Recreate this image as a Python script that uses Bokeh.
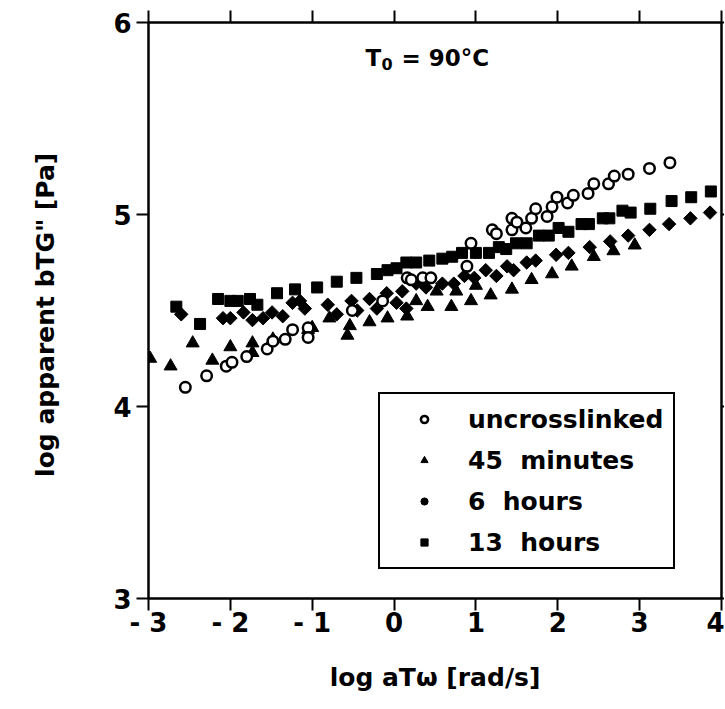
import numpy as np
from bokeh.plotting import figure
from bokeh.models import Range1d, LinearAxis, FixedTicker, Label, Legend, LegendItem
from bokeh.embed import file_html
from bokeh.resources import INLINE

# ---------------- data ----------------
uncross_x = [-2.55, -2.29, -2.05, -1.98, -1.80, -1.55, -1.48, -1.33, -1.24, -1.05, -1.05, -0.51,
             -0.14, 0.16, 0.21, 0.35, 0.45, 0.89, 0.94, 1.20, 1.25, 1.44, 1.44, 1.50, 1.61, 1.68,
             1.73, 1.87, 1.93, 1.99, 2.12, 2.19, 2.37, 2.44, 2.62, 2.69, 2.86, 3.12, 3.37]
uncross_y = [4.10, 4.16, 4.21, 4.23, 4.26, 4.30, 4.34, 4.35, 4.40, 4.41, 4.36, 4.50,
             4.55, 4.67, 4.66, 4.67, 4.67, 4.73, 4.85, 4.92, 4.90, 4.98, 4.92, 4.96, 4.93, 4.98,
             5.03, 4.99, 5.04, 5.09, 5.06, 5.10, 5.11, 5.16, 5.16, 5.20, 5.21, 5.24, 5.27]

min45_x = [-2.98, -2.73, -2.46, -2.22, -2.00, -1.73, -1.73, -1.48, -1.05, -1.00, -0.79, -0.57,
           -0.54, -0.30, -0.08, 0.16, 0.27, 0.41, 0.52, 0.70, 0.76, 0.94, 1.00, 1.18, 1.44,
           1.68, 1.93, 2.17, 2.44, 2.68, 2.94]
min45_y = [4.25, 4.21, 4.33, 4.24, 4.31, 4.33, 4.28, 4.35, 4.40, 4.41, 4.46, 4.37,
           4.42, 4.44, 4.46, 4.47, 4.55, 4.52, 4.60, 4.52, 4.60, 4.55, 4.63, 4.58, 4.61,
           4.66, 4.69, 4.73, 4.78, 4.81, 4.84]

hr6_x = [-2.60, -2.09, -2.00, -1.84, -1.73, -1.60, -1.49, -1.36, -1.24, -1.15, -1.09, -0.81,
         -0.70, -0.52, -0.45, -0.30, -0.21, -0.09, 0.03, 0.10, 0.15, 0.27, 0.39, 0.59, 0.73,
         0.86, 0.98, 1.12, 1.25, 1.38, 1.46, 1.62, 1.73, 1.98, 2.13, 2.39, 2.64, 2.86, 3.12,
         3.36, 3.62, 3.86]
hr6_y = [4.48, 4.46, 4.46, 4.49, 4.45, 4.46, 4.49, 4.47, 4.54, 4.55, 4.51, 4.53,
         4.48, 4.55, 4.50, 4.56, 4.51, 4.59, 4.54, 4.60, 4.51, 4.64, 4.62, 4.64, 4.64,
         4.68, 4.67, 4.71, 4.68, 4.73, 4.71, 4.75, 4.76, 4.79, 4.80, 4.83, 4.86, 4.89, 4.92,
         4.95, 4.98, 5.01]

hr13_x = [-2.66, -2.37, -2.15, -2.00, -1.91, -1.76, -1.67, -1.43, -1.21, -0.94, -0.70, -0.46,
          -0.21, -0.08, 0.03, 0.15, 0.27, 0.43, 0.59, 0.71, 0.83, 1.00, 1.16, 1.28, 1.37,
          1.49, 1.62, 1.77, 1.89, 2.01, 2.13, 2.29, 2.38, 2.55, 2.63, 2.79, 2.89, 3.13, 3.39,
          3.63, 3.87]
hr13_y = [4.52, 4.43, 4.56, 4.55, 4.55, 4.56, 4.53, 4.59, 4.61, 4.62, 4.65, 4.67,
          4.69, 4.71, 4.72, 4.75, 4.75, 4.76, 4.77, 4.78, 4.80, 4.80, 4.80, 4.83, 4.82,
          4.85, 4.85, 4.89, 4.89, 4.93, 4.91, 4.95, 4.95, 4.98, 4.98, 5.02, 5.01, 5.03, 5.07,
          5.09, 5.12]

series_names = ["uncrosslinked", "45  minutes", "6  hours", "13  hours"]

x_ticks = [-3, -2, -1, 0, 1, 2, 3, 4]
x_tick_labels = ["- 3", "- 2", "- 1", "0", "1", "2", "3", "4"]
y_ticks = [3, 4, 5, 6]
y_tick_labels = ["3", "4", "5", "6"]

x_title = "log aTω [rad/s]"
y_title = 'log apparent bTG"  [Pa]'

# ---------------- layout ----------------
FONT = "DejaVu Sans"
FW, FH = 573, 576
BL, BT = 148, 22
FRAME_L = BL
FRAME_T = BT


def X(px):
    return -3 + (px - FRAME_L) / (FW / 7.0)


def Y(py):
    return 6 - (py - FRAME_T) / (FH / 3.0)


p = figure(frame_width=FW, frame_height=FH, x_range=Range1d(-3, 4), y_range=Range1d(3, 6),
           output_backend="svg", toolbar_location=None,
           min_border_left=BL, min_border_top=BT, min_border_right=0, min_border_bottom=100)
p.grid.visible = False
p.outline_line_color = "black"
p.outline_line_width = 2
p.background_fill_color = "white"
p.border_fill_color = "white"


def style_axis(ax, ticks, labels, tick_out, size="26px", standoff=4):
    ax.ticker = FixedTicker(ticks=ticks)
    ax.major_label_overrides = {t: l for t, l in zip(ticks, labels)}
    ax.axis_line_width = 2
    ax.axis_line_color = "black"
    ax.major_tick_line_width = 2
    ax.major_tick_line_color = "black"
    ax.major_tick_out = tick_out
    ax.major_tick_in = 0
    ax.minor_tick_out = 0
    ax.minor_tick_in = 0
    ax.minor_tick_line_color = None
    ax.major_label_text_font = FONT
    ax.major_label_text_font_style = "bold"
    ax.major_label_text_font_size = size
    ax.major_label_text_color = "black"
    ax.major_label_standoff = standoff
    ax.axis_label_text_font = FONT
    ax.axis_label_text_font_style = "bold"
    ax.axis_label_text_font_size = "25px"
    ax.axis_label_text_color = "black"


xa = p.xaxis[0]
style_axis(xa, x_ticks, x_tick_labels, 12, standoff=-3)
xa.axis_label = x_title
xa.axis_label_standoff = 22

ya = p.yaxis[0]
style_axis(ya, y_ticks, y_tick_labels, 12, standoff=5)
ya.axis_label = y_title
ya.axis_label_standoff = 50

top_axis = LinearAxis()
style_axis(top_axis, x_ticks, [""] * len(x_ticks), 12, size="1px", standoff=0)
top_axis.axis_label = None
p.add_layout(top_axis, "above")

right_axis = LinearAxis()
style_axis(right_axis, y_ticks, [""] * len(y_ticks), 3, size="1px", standoff=0)
right_axis.axis_label = None
p.add_layout(right_axis, "right")

# ---------------- data glyphs ----------------
r_sq = p.scatter(hr13_x, hr13_y, marker="square", size=11, color="black")
r_di = p.scatter(hr6_x, hr6_y, marker="square", angle=np.pi / 4, size=9.5, color="black")
# zero-size twin of the 6 h series: only supplies the round legend key seen in the reference
r_di_key = p.scatter(hr6_x, hr6_y, marker="circle", size=0, color="black")
r_tr = p.scatter(min45_x, min45_y, marker="triangle", size=13, color="black")
r_ci = p.scatter(uncross_x, uncross_y, marker="circle", size=10.5, fill_color="white",
                 line_color="black", line_width=2.5)

legend = Legend(items=[LegendItem(label=series_names[0], renderers=[r_ci]),
                       LegendItem(label=series_names[1], renderers=[r_tr]),
                       LegendItem(label=series_names[2], renderers=[r_di_key]),
                       LegendItem(label=series_names[3], renderers=[r_sq])],
                location=(230, 29))
legend.border_line_color = "black"
legend.border_line_width = 2
legend.border_line_alpha = 1
legend.background_fill_color = "white"
legend.background_fill_alpha = 1
legend.label_text_font = FONT
legend.label_text_font_style = "bold"
legend.label_text_font_size = "25px"
legend.label_text_color = "black"
legend.glyph_width = 68
legend.glyph_height = 18
legend.label_height = 30
legend.spacing = 11
legend.padding = 10
legend.label_standoff = 10
legend.margin = 0
p.add_layout(legend)


def add_label(px, py, text, size, align="left"):
    p.add_layout(Label(x=X(px), y=Y(py), text=text, text_align=align,
                       text_baseline="alphabetic", text_font=FONT, text_font_style="bold",
                       text_font_size=size, text_color="black"))


# annotation: T0 = 90°C
add_label(365, 57, "T", "23px")
add_label(381, 63, "0", "16px")
add_label(401, 57, "= 90°C", "23px")

open("out.html", "w").write(file_html(p, INLINE))
